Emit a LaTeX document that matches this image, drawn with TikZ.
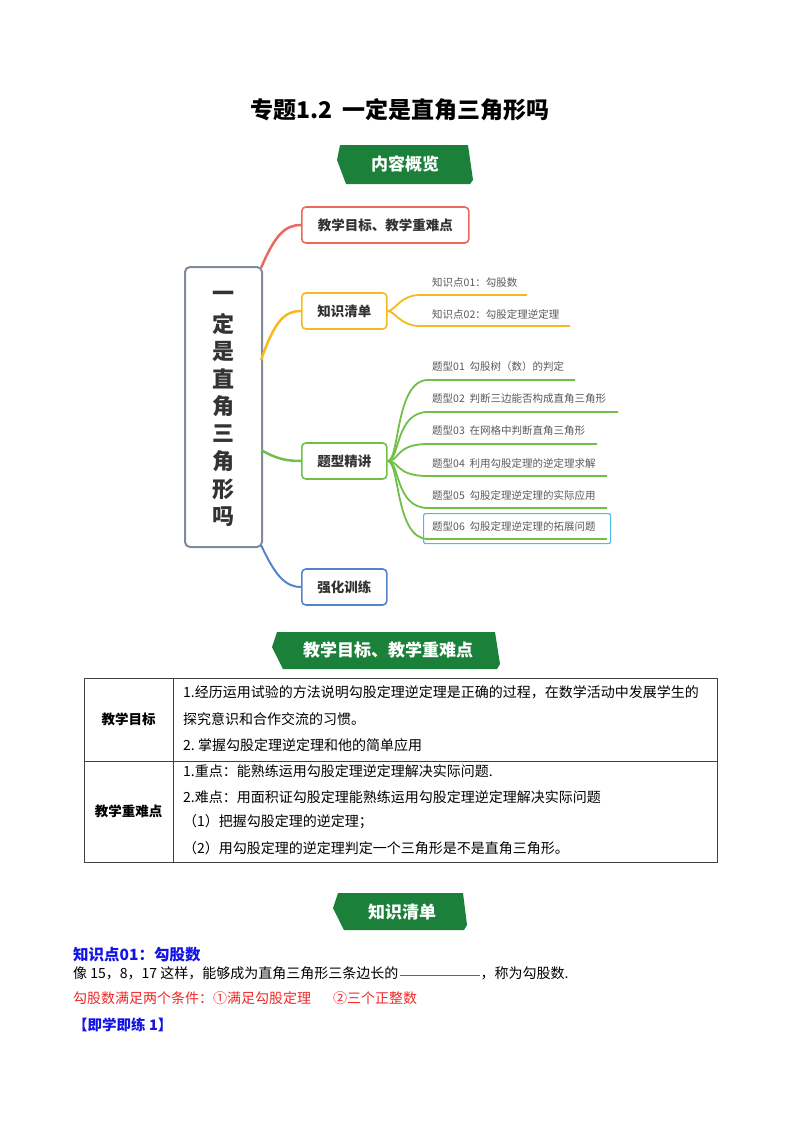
\documentclass[tikz,border=0pt]{standalone}
\usepackage{fontspec}
\setmainfont{Noto Sans CJK SC}
\usetikzlibrary{positioning}
\definecolor{bgreen}{RGB}{27,128,58}
\definecolor{cred}{RGB}{236,104,92}
\definecolor{corange}{RGB}{246,186,30}
\definecolor{cgreen}{RGB}{112,192,72}
\definecolor{cblue}{RGB}{84,132,204}
\definecolor{ccyan}{RGB}{80,184,232}
\definecolor{cgray}{RGB}{128,138,156}
\definecolor{tblue}{RGB}{20,20,230}
\definecolor{tred}{RGB}{240,40,40}
\tikzset{
 branch/.style={draw=#1,line width=1.6pt,rounded corners=4pt,fill=white,minimum height=36pt,font=\fontsize{13.5}{15}\selectfont\bfseries,text=black!80,inner xsep=8pt},
 sublabel/.style={anchor=west,font=\fontsize{10.5}{12}\selectfont,text=black!65,inner sep=0pt},
 banner/.style={fill=bgreen,draw=none},
 bannertext/.style={text=white,font=\fontsize{17}{19}\selectfont\bfseries},
 body/.style={anchor=west,font=\fontsize{14}{15}\selectfont,inner sep=0pt},
}
\begin{document}
\begin{tikzpicture}[x=1pt,y=-1pt]
\useasboundingbox (0,0) rectangle (800,1132);
\node[font=\fontsize{23}{25}\selectfont\bfseries] (title) at (400,110) {专题1.2\ \ 一定是直角三角形吗};
% banner 1
\fill[banner] (340,145) -- (468,145) -- (473,180) -- (470,184) -- (346,184) -- (337,160) -- cycle;
\node[bannertext] (b1) at (405,164) {内容概览};
% central box
\node[draw=cgray,line width=2pt,rounded corners=5pt,minimum width=77pt,minimum height=280pt,fill=white] (center) at (223.5,407) {};
\foreach \c [count=\i] in {一,定,是,直,角,三,角,形,吗}
  \node[font=\fontsize{22}{23}\selectfont\bfseries,text=black!80] (ch\i) at (223.5,269+\i*27.5) {\c};
% branches
\node[branch=cred,anchor=west,minimum width=167pt] (m1) at (301,225) {教学目标、教学重难点};
\node[branch=corange,anchor=west,minimum width=85pt] (m2) at (301,311) {知识清单};
\node[branch=cgreen,anchor=west,minimum width=85pt] (m3) at (301,461) {题型精讲};
\node[branch=cblue,anchor=west,minimum width=85pt] (m4) at (301,587) {强化训练};
\coordinate (c1) at (261,268);
\coordinate (c2) at (261,360);
\coordinate (c3) at (261,450);
\coordinate (c4) at (261,545);
\draw[cred,line width=2.5pt] (c1) .. controls (275,235) and (285,225) .. (m1.west);
\draw[corange,line width=2.5pt] (c2) .. controls (275,320) and (285,311) .. (m2.west);
\draw[cgreen,line width=2.5pt] (c3) .. controls (275,458) and (285,461) .. (m3.west);
\draw[cblue,line width=2pt] (c4) .. controls (275,575) and (285,587) .. (m4.west);
% knowledge subs
\coordinate (k1s) at (420,295); \coordinate (k1e) at (527,295);
\coordinate (k2s) at (420,326); \coordinate (k2e) at (570,326);
\draw[corange,line width=1.8pt] (m2.east) .. controls (395,311) and (400,295) .. (k1s) -- (k1e);
\draw[corange,line width=1.8pt] (m2.east) .. controls (395,311) and (400,326) .. (k2s) -- (k2e);
\node[sublabel] (k1) at (432,283) {知识点01：勾股数};
\node[sublabel] (k2) at (432,314) {知识点02：勾股定理逆定理};
% type subs
\node[draw=ccyan,line width=1.2pt,rounded corners=2pt,minimum width=187pt,minimum height=30pt,anchor=north west] (hl) at (423,513) {};
\foreach \y/\e/\t [count=\i] in {380/575/题型01\ \ 勾股树（数）的判定,412/618/题型02\ \ 判断三边能否构成直角三角形,444/597/题型03\ \ 在网格中判断直角三角形,476/607/题型04\ \ 利用勾股定理的逆定理求解,508/607/题型05\ \ 勾股定理逆定理的实际应用,539/607/题型06\ \ 勾股定理逆定理的拓展问题}{
  \coordinate (ts\i) at (428,\y);
  \coordinate (te\i) at (\e,\y);
  \draw[cgreen,line width=1.8pt] (m3.east) .. controls (400,461) and (395,\y) .. (ts\i) -- (te\i);
  \node[sublabel] (t\i) at (432,\y-13) {\t};
}
% banner 2
\fill[banner] (277,632) -- (495,632) -- (500,664) -- (497,669) -- (283,669) -- (272,647) -- cycle;
\node[bannertext] (b2) at (388,650) {教学目标、教学重难点};
% table
\draw[black!75,line width=0.8pt] (84,678) rectangle (717,862);
\draw[black!75,line width=0.8pt] (84,761) -- (717,761);
\draw[black!75,line width=0.8pt] (173,678) -- (173,862);
\node[font=\fontsize{13.5}{15}\selectfont\bfseries] (l1) at (128.5,719) {教学目标};
\node[font=\fontsize{13.5}{15}\selectfont\bfseries] (l2) at (128.5,811) {教学重难点};
\node[body] (r1) at (183,692) {1.经历运用试验的方法说明勾股定理逆定理是正确的过程，在数学活动中发展学生的};
\node[body] (r2) at (183,719) {探究意识和合作交流的习惯。};
\node[body] (r3) at (183,745) {2.\ 掌握勾股定理逆定理和他的简单应用};
\node[body] (r4) at (183,771) {1.重点：能熟练运用勾股定理逆定理解决实际问题.};
\node[body] (r5) at (183,797) {2.难点：用面积证勾股定理能熟练运用勾股定理逆定理解决实际问题};
\node[body] (r6) at (183,822) {（1）把握勾股定理的逆定理；};
\node[body] (r7) at (183,848) {（2）用勾股定理的逆定理判定一个三角形是不是直角三角形。};
% banner 3
\fill[banner] (338,893) -- (463,893) -- (467,925) -- (464,930) -- (344,930) -- (333,908) -- cycle;
\node[bannertext] (b3) at (402,912) {知识清单};
% body
\node[body,font=\fontsize{15.5}{17}\selectfont\bfseries,text=tblue] (kp) at (73,955) {知识点01：勾股数};
\node[body,anchor=base west] (s1) at (73,978) {像\ 15，8，17\ 这样，能够成为直角三角形三条边长的};
\coordinate (u1) at ([xshift=1pt,yshift=3pt]s1.base east);
\coordinate (u2) at ([xshift=81pt,yshift=3pt]s1.base east);
\draw[tred,line width=1pt] (u1) -- (u2);
\node[body,anchor=base west] (s1b) at ([xshift=82pt]s1.base east) {，称为勾股数.};
\node[body,text=tred] (s2) at (73,998) {勾股数满足两个条件：①满足勾股定理\hspace{22pt}②三个正整数};
\node[body,font=\fontsize{14.5}{16}\selectfont\bfseries,text=tblue] (s3) at (73,1025) {【即学即练 1】};
\end{tikzpicture}
\end{document}
